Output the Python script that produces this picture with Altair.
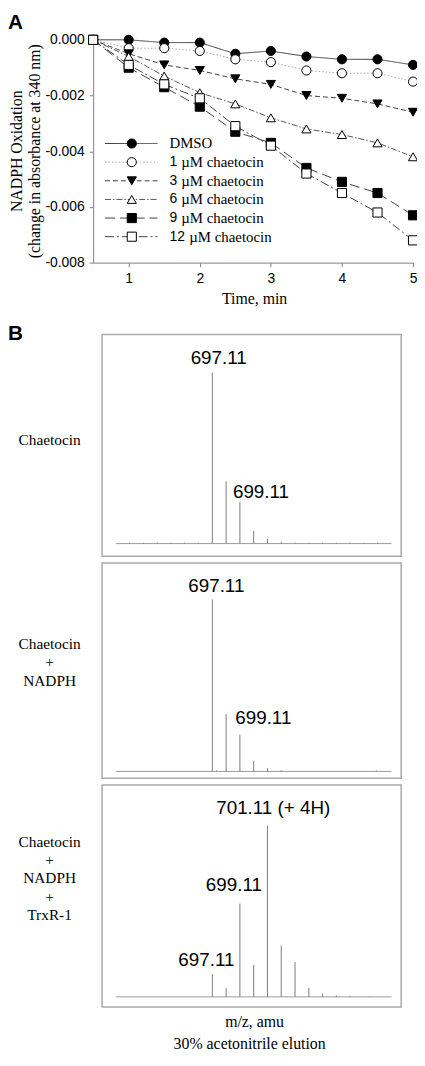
import altair as alt
import pandas as pd

# ---------------- Panel A data ----------------
time_min = [0.5, 1, 1.5, 2, 2.5, 3, 3.5, 4, 4.5, 5]
series_names = ["DMSO", "1 µM chaetocin", "3 µM chaetocin", "6 µM chaetocin",
                "9 µM chaetocin", "12 µM chaetocin"]
dmso = [0.0, 0.0, -0.0001, -0.0001, -0.0005, -0.0004, -0.0006, -0.0007, -0.0007, -0.0009]
c1 = [0.0, -0.0003, -0.0003, -0.0004, -0.0007, -0.0008, -0.0011, -0.0012, -0.0012, -0.0015]
c3 = [0.0, -0.0005, -0.0009, -0.0011, -0.0014, -0.0016, -0.0020, -0.0021, -0.0023, -0.0026]
c6 = [0.0, -0.0006, -0.0013, -0.0019, -0.0023, -0.0028, -0.0032, -0.0034, -0.0037, -0.0042]
c9 = [0.0, -0.0010, -0.0017, -0.0024, -0.0033, -0.0037, -0.0046, -0.0051, -0.0055, -0.0063]
c12 = [0.0, -0.0009, -0.0016, -0.0021, -0.0031, -0.0038, -0.0048, -0.0055, -0.0062, -0.0072]
legend_number = ["", "1", "3", "6", "9", "12"]
legend_rest = ["DMSO", "µM chaetocin", "µM chaetocin", "µM chaetocin", "µM chaetocin", "µM chaetocin"]
x_ticks = [1, 2, 3, 4, 5]
y_ticks = [0.0, -0.002, -0.004, -0.006, -0.008]

# ---------------- Panel B data ----------------
mz_range = [690, 710]
frame_mz = [689.0, 710.7]
spec1_mz = [691, 692, 693, 694, 695, 696, 697, 698, 699, 700, 701, 702, 703, 704, 705, 706, 707, 708, 709]
spec1_int = [0.6, 0.5, 0.7, 0.5, 0.6, 0.5, 100, 36.4, 24.4, 7.4, 2.8, 1.0, 0.6, 0.5, 0.6, 0.5, 0.6, 0.5, 0.7]
spec1_lab = ["697.11", "699.11"]
spec1_lab_mz = [697.46, 700.53]
spec1_lab_int = [104.7, 26.5]

spec2_mz = [697, 697.3, 698, 699, 700, 701, 702, 708.9]
spec2_int = [100, 0.6, 33.4, 21.3, 6.0, 1.9, 0.6, 0.5]
spec2_lab = ["697.11", "699.11"]
spec2_lab_mz = [697.29, 700.70]
spec2_lab_int = [104.3, 27.3]

spec3_mz = [697, 698, 699, 700, 701, 702, 703, 704, 705, 706, 707, 708.4]
spec3_int = [13.2, 5.1, 54.5, 18.6, 100, 30.0, 20.3, 5.3, 2.0, 0.8, 0.4, 0.3]
spec3_lab = ["701.11 (+ 4H)", "699.11", "697.11"]
spec3_lab_mz = [701.42, 698.56, 696.57]
spec3_lab_int = [106.6, 61.9, 18.0]

# ---------------- styles / layout ----------------
line_colors = ["#404040", "#a8a8a8", "#404040", "#555555", "#404040", "#404040"]
dashes = [[1, 0], [1.5, 2], [5, 3], [6, 2, 1.5, 2], [10, 5], [9, 3, 2, 3]]
shapes = ["circle", "circle", "triangle-down", "triangle-up", "square", "square"]
fills = ["black", "white", "black", "white", "black", "white"]
sizes = [85, 85, 110, 110, 80, 80]
SERIF = "Liberation Serif"
SANS = "Liberation Sans"

W, H = 413, 1050                      # whole drawing area
A_X = [86, 409]                       # panel A plot, pixels
A_Y = [252, 27]
B_X = [95, 397]                       # spectra frames, pixels
B1_Y, B2_Y, B3_Y = [548.5, 324.5], [772.7, 555.4], [1003.6, 779.5]
B1_DOM, B2_DOM, B3_DOM = [-7.4, 122.2], [-4.0, 121.1], [-5.9, 123.7]

one = pd.DataFrame({"k": [0]})


def label(text, x, y, **kw):
    return alt.Chart(one).mark_text(text=text, color="black", **kw).encode(
        x=alt.value(x), y=alt.value(y))


# ---------------- Panel A ----------------
rows = []
for name, vals in zip(series_names, [dmso, c1, c3, c6, c9, c12]):
    for t, v in zip(time_min, vals):
        rows.append({"series": name, "time": t, "value": v})
df_a = pd.DataFrame(rows)

xA = alt.Scale(domain=[0.5, 5], range=A_X, nice=False, zero=False)
yA = alt.Scale(domain=[-0.008, 0], range=A_Y, nice=False, zero=False)
color_s = alt.Scale(domain=series_names, range=line_colors)
dash_s = alt.Scale(domain=series_names, range=dashes)
shape_s = alt.Scale(domain=series_names, range=shapes)
fill_s = alt.Scale(domain=series_names, range=fills)
size_s = alt.Scale(domain=series_names, range=sizes)

x_axis = alt.Axis(values=x_ticks, format="d", title=None, grid=False, offset=A_Y[0] - H,
                  domainColor="#808080", tickColor="#808080", tickSize=4,
                  labelFont=SANS, labelFontSize=14, labelColor="black",
                  labelPadding=5.5, labelFlush=False, labelOverlap=False)
y_axis = alt.Axis(values=y_ticks, title=None, grid=False, offset=-A_X[0],
                  labelExpr="replace(format(datum.value, '.3f'), '\u2212', '-')",
                  domainColor="#808080", tickColor="#808080", tickSize=4,
                  labelFont=SANS, labelFontSize=14, labelColor="black",
                  labelPadding=5, labelFlush=False, labelOverlap=False)

lines = alt.Chart(df_a).mark_line(strokeWidth=1).encode(
    x=alt.X("time:Q", scale=xA, axis=x_axis),
    y=alt.Y("value:Q", scale=yA, axis=y_axis),
    color=alt.Color("series:N", scale=color_s, legend=None),
    strokeDash=alt.StrokeDash("series:N", scale=dash_s, legend=None),
)
pts = alt.Chart(df_a).mark_point(opacity=1, strokeWidth=1, stroke="black").encode(
    x=alt.X("time:Q", scale=xA),
    y=alt.Y("value:Q", scale=yA),
    shape=alt.Shape("series:N", scale=shape_s, legend=None),
    fill=alt.Fill("series:N", scale=fill_s, legend=None),
    size=alt.Size("series:N", scale=size_s, legend=None),
)
a_data = alt.layer(lines, pts)

df_leg = pd.DataFrame({"series": series_names, "number": legend_number, "rest": legend_rest})
leg_y = alt.Y("series:N", scale=alt.Scale(type="point", domain=series_names,
                                          range=[131.7, 225.8], padding=0), axis=None)
leg_lines = alt.Chart(df_leg).mark_rule(strokeWidth=1).encode(
    x=alt.value(98), x2=alt.value(151), y=leg_y,
    color=alt.Color("series:N", scale=color_s, legend=None),
    strokeDash=alt.StrokeDash("series:N", scale=dash_s, legend=None),
)
leg_pts = alt.Chart(df_leg).mark_point(opacity=1, strokeWidth=1, stroke="black").encode(
    x=alt.value(125), y=leg_y,
    shape=alt.Shape("series:N", scale=shape_s, legend=None),
    fill=alt.Fill("series:N", scale=fill_s, legend=None),
    size=alt.Size("series:N", scale=size_s, legend=None),
)
leg_num = alt.Chart(df_leg).transform_filter("datum.number != ''").mark_text(
    font=SANS, fontSize=14, align="left", baseline="middle", color="black").encode(
    x=alt.value(163), y=leg_y, text="number:N")
leg_dmso = alt.Chart(df_leg).transform_filter("datum.number == ''").mark_text(
    font=SERIF, fontSize=15, align="left", baseline="middle", color="black").encode(
    x=alt.value(163), y=leg_y, text="rest:N")
leg_rest1 = alt.Chart(df_leg).transform_filter("length(datum.number) == 1").mark_text(
    font=SERIF, fontSize=15, align="left", baseline="middle", color="black").encode(
    x=alt.value(175), y=leg_y, text="rest:N")
leg_rest2 = alt.Chart(df_leg).transform_filter("length(datum.number) == 2").mark_text(
    font=SERIF, fontSize=15, align="left", baseline="middle", color="black").encode(
    x=alt.value(183), y=leg_y, text="rest:N")
a_legend = alt.layer(leg_lines, leg_pts, leg_num, leg_dmso, leg_rest1, leg_rest2)


# ---------------- Panel B ----------------
def box(mz, inten, labs, lab_mz, lab_int, y_range, y_dom):
    xs = alt.Scale(domain=frame_mz, range=B_X, nice=False, zero=False)
    ys = alt.Scale(domain=y_dom, range=y_range, nice=False, zero=False)
    frame = alt.Chart(pd.DataFrame({"x0": [frame_mz[0]], "x1": [frame_mz[1]],
                                    "y0": [y_dom[0]], "y1": [y_dom[1]]})).mark_rect(
        fillOpacity=0, stroke="#aaaaaa", strokeWidth=1.5).encode(
        x=alt.X("x0:Q", scale=xs, axis=None), x2="x1:Q",
        y=alt.Y("y0:Q", scale=ys, axis=None), y2="y1:Q")
    base = alt.Chart(pd.DataFrame({"x0": [mz_range[0]], "x1": [mz_range[1]], "y0": [0]})).mark_rule(
        color="#9a9a9a", strokeWidth=1).encode(
        x=alt.X("x0:Q", scale=xs, axis=None), x2="x1:Q",
        y=alt.Y("y0:Q", scale=ys, axis=None))
    df = pd.DataFrame({"mz": mz, "int": inten})
    peaks = alt.Chart(df).transform_calculate(zero="0").mark_rule(
        color="#7c7c7c", strokeWidth=1).encode(
        x=alt.X("mz:Q", scale=xs, axis=None),
        y=alt.Y("int:Q", scale=ys, axis=None),
        y2="zero:Q")
    dfl = pd.DataFrame({"lab": labs, "lmz": lab_mz, "lint": lab_int})
    texts = alt.Chart(dfl).mark_text(font=SANS, fontSize=19, align="center",
                                     baseline="alphabetic", color="black").encode(
        x=alt.X("lmz:Q", scale=xs, axis=None),
        y=alt.Y("lint:Q", scale=ys, axis=None),
        text="lab:N")
    return alt.layer(frame, base, peaks, texts)


b1 = box(spec1_mz, spec1_int, spec1_lab, spec1_lab_mz, spec1_lab_int, B1_Y, B1_DOM)
b2 = box(spec2_mz, spec2_int, spec2_lab, spec2_lab_mz, spec2_lab_int, B2_Y, B2_DOM)
b3 = box(spec3_mz, spec3_int, spec3_lab, spec3_lab_mz, spec3_lab_int, B3_Y, B3_DOM)

left_kw = dict(font=SERIF, fontSize=15.5, align="center", baseline="alphabetic", lineHeight=18.4)
title_kw = dict(font=SERIF, fontSize=16, align="center", baseline="alphabetic")
texts = [
    label("A", 0, 16, font=SANS, fontSize=21, fontWeight="bold", align="left", baseline="alphabetic"),
    label("NADPH Oxidation", 14.5, 139.5, angle=270, **title_kw),
    label("(change in absorbance at 340 nm)", 32, 139.5, angle=270, **title_kw),
    label("Time, min", 249, 294, **title_kw),
    label("B", 0, 330.6, font=SANS, fontSize=21, fontWeight="bold", align="left", baseline="alphabetic"),
    label("Chaetocin", 42, 436, **left_kw),
    label(["Chaetocin", "+", "NADPH"], 42, 642.4, **left_kw),
    label(["Chaetocin", "+", "NADPH", "+", "TrxR-1"], 42, 842, **left_kw),
    label("m/z, amu", 249, 1024.3, **title_kw),
    label("30% acetonitrile elution", 244, 1046, **title_kw),
]

chart = alt.layer(a_data, a_legend, b1, b2, b3, *texts).resolve_scale(
    x="independent", y="independent").properties(
    width=W, height=H, padding=0, background="white",
    autosize=alt.AutoSizeParams(type="none")).configure_view(stroke="transparent")

chart.save("out.html", embed_options={"renderer": "svg", "actions": False})
